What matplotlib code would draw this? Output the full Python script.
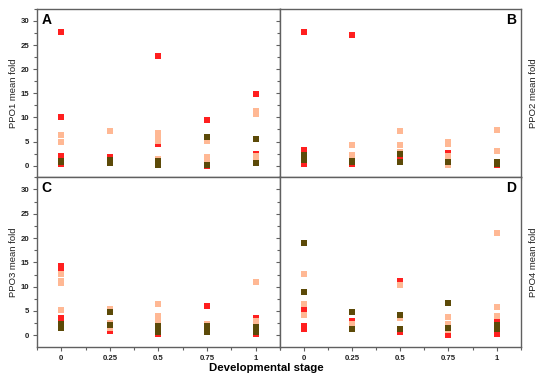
import matplotlib
matplotlib.use("Agg")
import matplotlib.pyplot as plt
from matplotlib.ticker import MultipleLocator

plt.rcParams["font.family"] = ["Liberation Sans", "DejaVu Sans"]

stages = [0, 0.25, 0.5, 0.75, 1]
stage_labels = ["0", "0.25", "0.5", "0.75", "1"]

# values per stage, one list per developmental stage
ppo1_red = [[27.8, 10.0, 2.1, 0.35], [1.9, 1.6], [22.8, 4.5, 0.5], [9.4, 0.0], [14.8, 2.5]]
ppo1_salmon = [[6.3, 4.9], [7.2], [6.8, 5.6, 5.2, 1.3], [5.2, 1.9, 1.2], [11.3, 10.8, 2.1, 0.9]]
ppo1_olive = [[1.0, 0.8], [1.2, 0.55], [1.0, 0.1], [5.9, 0.2], [5.6, 0.6]]

ppo2_red = [[27.8, 3.3, 3.0, 1.8, 0.35], [27.1, 0.4], [1.4], [2.6, 1.6], [0.1]]
ppo2_salmon = [[], [4.2, 2.3, 1.8], [7.1, 4.35, 2.8], [5.0, 4.5, 2.1, 0.05], [7.45, 3.0]]
ppo2_olive = [[2.3, 1.2], [1.0, 0.75], [2.4, 0.7], [0.75], [0.75, 0.35]]

ppo3_red = [[14.3, 13.8, 3.6], [0.8], [0.2], [6.1], [3.6, 0.2]]
ppo3_salmon = [[12.6, 11.2, 10.7, 5.2], [5.4, 2.6, 1.5], [6.4, 3.9, 3.2], [2.3, 0.85], [11.0, 2.9, 1.0]]
ppo3_olive = [[2.3, 1.9, 1.5], [4.7, 2.1], [2.0, 0.9, 0.6], [2.0, 0.6], [1.8, 0.7]]

ppo4_red = [[5.9, 4.9, 1.9, 1.3], [2.9, 1.7], [11.2, 0.6], [0.15], [2.7, 0.35]]
ppo4_salmon = [[12.6, 6.4, 4.1], [2.3], [10.4, 3.5], [3.7, 2.3, 1.0], [21.0, 5.9, 3.9, 1.8]]
ppo4_olive = [[19.0, 9.0], [4.8, 1.25], [4.1, 1.4], [6.7, 1.45], [2.1, 1.3]]

panels = [
    ("A", "PPO1 mean fold", ppo1_red, ppo1_salmon, ppo1_olive),
    ("B", "PPO2 mean fold", ppo2_red, ppo2_salmon, ppo2_olive),
    ("C", "PPO3 mean fold", ppo3_red, ppo3_salmon, ppo3_olive),
    ("D", "PPO4 mean fold", ppo4_red, ppo4_salmon, ppo4_olive),
]
colors = ["#ff1f1f", "#ffb894", "#5c4a08"]

fig = plt.figure(figsize=(5.5, 3.87), dpi=100)
boxes = [
    [0.0673, 0.542, 0.4417, 0.435],
    [0.509, 0.542, 0.4377, 0.435],
    [0.0673, 0.1034, 0.4417, 0.4386],
    [0.509, 0.1034, 0.4377, 0.4386],
]

for i, (letter, ylab, red, salmon, olive) in enumerate(panels):
    ax = fig.add_axes(boxes[i])
    for series, c in zip([red, salmon, olive], colors):
        xs = []
        ys = []
        for st, vals in zip(stages, series):
            xs += [st] * len(vals)
            ys += vals
        ax.scatter(xs, ys, marker="s", s=13, color=c, linewidths=0, zorder=3)

    ax.set_xlim(-0.125, 1.125)
    ax.set_ylim(-2.4, 32.5)
    ax.xaxis.set_major_locator(MultipleLocator(0.25))
    ax.xaxis.set_minor_locator(MultipleLocator(0.125))
    ax.yaxis.set_major_locator(MultipleLocator(5))
    ax.yaxis.set_minor_locator(MultipleLocator(2.5))
    ax.set_xticks(stages)
    ax.set_xticklabels(stage_labels)
    for sp in ax.spines.values():
        sp.set_color("#606060")
        sp.set_linewidth(1.0)
    ax.tick_params(which="major", direction="out", length=3, width=0.8,
                   color="#606060", labelsize=5.6, labelcolor="#222222", pad=2.5)
    ax.tick_params(which="minor", direction="out", length=2, width=0.8, color="#606060")
    for lab in ax.get_xticklabels() + ax.get_yticklabels():
        lab.set_fontweight("bold")

    if i < 2:
        ax.tick_params(labelbottom=False)
    if i % 2 == 1:
        ax.tick_params(labelleft=False)
        ax.yaxis.set_label_position("right")
        ax.set_ylabel(ylab, fontsize=6.8, color="#222222", labelpad=6)
    else:
        ax.set_ylabel(ylab, fontsize=6.8, color="#222222", labelpad=2)

    if i % 2 == 0:
        ax.text(0.02, 0.975, letter, transform=ax.transAxes, fontsize=10,
                fontweight="bold", va="top", ha="left")
    else:
        ax.text(0.98, 0.975, letter, transform=ax.transAxes, fontsize=10,
                fontweight="bold", va="top", ha="right")

fig.text(0.485, 0.048, "Developmental stage", ha="center", va="center",
         fontsize=8.2, fontweight="bold")

fig.savefig("out.png", dpi=100)
